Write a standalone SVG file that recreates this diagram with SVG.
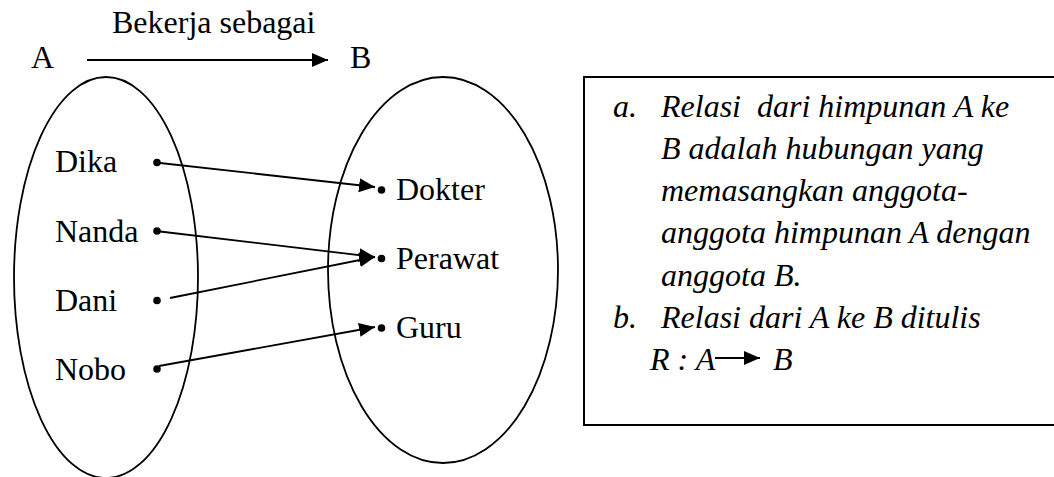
<svg xmlns="http://www.w3.org/2000/svg" width="1054" height="477" viewBox="0 0 1054 477">
<style>
.set{fill:none;stroke:#000;stroke-width:1.8}
.ln{fill:none;stroke:#000;stroke-width:1.8}
.dot{fill:#000}
</style>
<defs>
<marker id="ah" markerUnits="userSpaceOnUse" markerWidth="17" markerHeight="15" refX="16" refY="7" orient="auto">
<path d="M0,0 L16,7 L0,14 z" fill="#000"/>
</marker>
</defs>
<rect width="1054" height="477" fill="#fff"/>
<g font-family="Liberation Serif, serif" font-size="32" fill="#000">
<g id="title">
<text x="112" y="33">Bekerja sebagai</text>
</g>
<g id="setA">
<ellipse class="set" cx="106" cy="277.5" rx="92" ry="200.5"/>
<text x="31" y="68">A</text>
</g>
<g id="setB">
<ellipse class="set" cx="443" cy="270" rx="115" ry="193"/>
<text x="350" y="68">B</text>
</g>
<g id="dika"><circle class="dot" cx="157" cy="162.5" r="3.8"/><text x="55" y="172">Dika</text></g>
<g id="nanda"><circle class="dot" cx="157" cy="231" r="3.8"/><text x="55" y="242">Nanda</text></g>
<g id="dani"><circle class="dot" cx="157" cy="300.5" r="3.8"/><text x="55" y="311">Dani</text></g>
<g id="nobo"><circle class="dot" cx="157" cy="369" r="3.8"/><text x="55" y="380">Nobo</text></g>
<g id="dokter"><circle class="dot" cx="381.5" cy="190" r="3.8"/><text x="396" y="200">Dokter</text></g>
<g id="perawat"><circle class="dot" cx="381.5" cy="258.5" r="3.8"/><text x="396" y="269">Perawat</text></g>
<g id="guru"><circle class="dot" cx="381.5" cy="328" r="3.8"/><text x="396" y="338">Guru</text></g>
<g id="connectors">
<line class="ln" x1="87" y1="60" x2="328" y2="60" marker-end="url(#ah)"/>
<line class="ln" x1="160" y1="163" x2="375" y2="187" marker-end="url(#ah)"/>
<line class="ln" x1="160" y1="231.5" x2="375" y2="257" marker-end="url(#ah)"/>
<line class="ln" x1="170" y1="298" x2="375" y2="257" marker-end="url(#ah)"/>
<line class="ln" x1="159" y1="366" x2="375" y2="327" marker-end="url(#ah)"/>
</g>
<g id="note" font-style="italic">
<rect x="584" y="77" width="480" height="348" fill="none" stroke="#000" stroke-width="2"/>
<text x="613" y="117">a.</text>
<text x="661" y="117" xml:space="preserve">Relasi  dari himpunan A ke</text>
<text x="661" y="159">B adalah hubungan yang</text>
<text x="661" y="201">memasangkan anggota-</text>
<text x="661" y="243">anggota himpunan A dengan</text>
<text x="661" y="286">anggota B.</text>
<text x="613" y="328">b.</text>
<text x="661" y="328">Relasi dari A ke B ditulis</text>
<text x="650" y="370">R : A</text>
<line class="ln" x1="715" y1="358" x2="760" y2="358" stroke-width="2" marker-end="url(#ah)"/>
<text x="773" y="370">B</text>
</g>
</g>
</svg>
